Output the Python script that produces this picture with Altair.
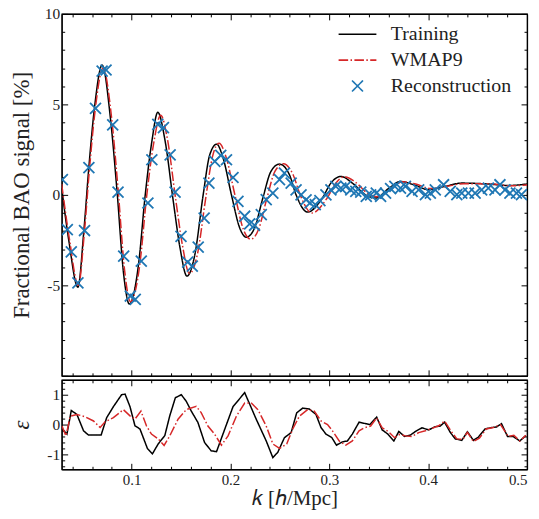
import altair as alt
import pandas as pd

# ---------------- data ----------------
k_train = [0.0293, 0.0366, 0.0457, 0.0517, 0.0567, 0.0628, 0.0702, 0.0786, 0.0853, 0.092,
           0.0977, 0.107, 0.1138, 0.1205, 0.1265, 0.134, 0.1422, 0.149, 0.156, 0.164,
           0.1724, 0.179, 0.186, 0.1926, 0.201, 0.2094, 0.216, 0.2244, 0.2328, 0.241,
           0.2496, 0.2597, 0.2664, 0.278, 0.293, 0.3016, 0.3117, 0.3233, 0.3368, 0.347,
           0.3603, 0.372, 0.3854, 0.4005, 0.4173, 0.434, 0.4609, 0.481, 0.5]
bao_train = [0.37, -2.56, -5.1, -2.0, 1.48, 4.97, 7.17, 4.23, 0.19, -4.4,
             -6.03, -3.85, 0.0, 2.95, 4.56, 2.95, -0.36, -2.93, -4.49, -3.3,
             0.0, 2.2, 2.8, 2.03, 0.0, -1.83, -2.34, -1.83, -0.17, 1.3,
             1.7, 1.11, 0.0, -0.95, -0.17, 0.65, 1.02, 0.65, 0.0, -0.17,
             0.37, 0.74, 0.56, 0.29, 0.47, 0.65, 0.6, 0.52, 0.6]

k_wmap = [0.0293, 0.037, 0.0462, 0.0522, 0.0572, 0.0634, 0.0712, 0.0795, 0.0862, 0.093,
          0.0988, 0.1082, 0.1152, 0.1222, 0.1295, 0.1362, 0.1445, 0.1515, 0.1585, 0.1665,
          0.1752, 0.1818, 0.1885, 0.1955, 0.2045, 0.213, 0.2205, 0.2285, 0.2368, 0.245,
          0.2535, 0.2635, 0.2705, 0.2825, 0.2975, 0.306, 0.315, 0.3265, 0.3395, 0.3495,
          0.3625, 0.374, 0.3875, 0.4025, 0.4195, 0.436, 0.4625, 0.482, 0.5]
bao_wmap = [0.6, -2.4, -5.0, -2.1, 1.3, 4.8, 7.0, 4.4, 0.4, -4.2,
            -5.9, -3.9, -0.1, 2.8, 4.4, 3.1, -0.2, -2.8, -4.35, -3.3,
            -0.1, 2.1, 2.85, 2.1, 0.0, -1.9, -2.45, -1.9, -0.2, 1.3,
            1.72, 1.1, 0.0, -1.0, -0.2, 0.6, 1.0, 0.7, 0.05, -0.1,
            0.35, 0.72, 0.6, 0.35, 0.48, 0.62, 0.62, 0.5, 0.55]

k_rec = [0.030, 0.035, 0.039, 0.0457, 0.0524, 0.0568, 0.0635, 0.0702, 0.0742, 0.0809,
         0.0863, 0.092, 0.0987, 0.1037, 0.1098, 0.1165, 0.1205, 0.1265, 0.1322, 0.139,
         0.144, 0.150, 0.1567, 0.1614, 0.1674, 0.1734, 0.1782, 0.1842, 0.1902, 0.196,
         0.2026, 0.2076, 0.2144, 0.2194, 0.2244, 0.2312, 0.2362, 0.2429, 0.2496, 0.2546,
         0.2614, 0.2664, 0.2714, 0.2765, 0.2805, 0.2858, 0.2905, 0.2966, 0.3016, 0.3066,
         0.3117, 0.3167, 0.3217, 0.3268, 0.3318, 0.3374, 0.3418, 0.3475, 0.3519, 0.3569,
         0.362, 0.3663, 0.372, 0.377, 0.3837, 0.3904, 0.3972, 0.4022, 0.4072, 0.4156,
         0.4223, 0.429, 0.434, 0.4407, 0.4475, 0.4541, 0.4609, 0.4676, 0.4726, 0.4777,
         0.4827, 0.4893, 0.4944]
bao_rec = [0.84, -1.92, -3.15, -4.86, -1.97, 1.51, 4.78, 6.84, 6.9, 3.87,
           0.15, -3.39, -5.59, -5.78, -3.66, -0.45, 1.94, 3.9, 3.72, 2.21,
           0.15, -2.29, -3.72, -3.94, -2.89, -1.28, 0.65, 1.85, 2.18, 1.94,
           0.96, -0.36, -1.18, -1.6, -1.68, -1.09, -0.26, 0.1, 0.84, 1.2,
           0.65, 0.28, 0.0, -0.27, -0.45, -0.54, -0.32, 0.0, 0.28, 0.47,
           0.37, 0.47, 0.28, 0.19, 0.15, -0.08, 0.0, 0.1, -0.08, 0.1,
           0.34, 0.47, 0.37, 0.47, 0.19, 0.28, 0.01, 0.1, 0.28, 0.56,
           0.19, 0.01, 0.1, 0.1, 0.1, 0.28, 0.37, 0.28, 0.56, 0.28,
           0.1, 0.1, 0.01]

k_eps_train = [0.0296, 0.0346, 0.039, 0.0447, 0.0514, 0.0564, 0.0692, 0.0748, 0.0816, 0.0899,
               0.0934, 0.0984, 0.1034, 0.1085, 0.1161, 0.1211, 0.1269, 0.1336, 0.1386, 0.1443,
               0.1503, 0.1553, 0.1604, 0.1671, 0.1738, 0.1805, 0.1859, 0.1943, 0.2026, 0.2144,
               0.2262, 0.2362, 0.2429, 0.2479, 0.2546, 0.2614, 0.267, 0.273, 0.2798, 0.2865,
               0.2916, 0.2966, 0.3026, 0.3072, 0.3133, 0.3183, 0.3233, 0.3301, 0.3368, 0.3411,
               0.3479, 0.3535, 0.3593, 0.3653, 0.3703, 0.3761, 0.3821, 0.3881, 0.3938, 0.4005,
               0.4072, 0.4123, 0.4166, 0.4223, 0.4274, 0.434, 0.4397, 0.4458, 0.4508, 0.4575,
               0.4642, 0.4692, 0.4742, 0.4803, 0.486, 0.4927, 0.4988]
eps_train = [-0.15, -0.32, 0.47, 0.34, -0.21, -0.35, -0.35, 0.23, 0.6, 1.0,
             1.02, 0.6, -0.04, -0.15, -0.81, -0.98, -0.65, -0.37, 0.29, 0.9,
             1.0, 0.78, 0.45, 0.07, -0.6, -0.88, -0.91, -0.15, 0.6, 1.07,
             0.17, -0.55, -1.11, -0.93, -0.44, -0.27, 0.39, 0.55, 0.52, 0.34,
             -0.1, -0.32, -0.44, -0.69, -0.58, -0.55, -0.32, 0.08, 0.03, 0.0,
             0.25, -0.18, -0.32, -0.55, -0.23, -0.4, -0.35, -0.21, -0.11, -0.18,
             -0.07, -0.05, 0.08, -0.26, -0.48, -0.53, -0.24, -0.53, -0.42, -0.15,
             -0.1, -0.08, 0.03, -0.4, -0.4, -0.55, -0.37]

k_eps_wmap = [0.0296, 0.0336, 0.038, 0.0447, 0.0531, 0.0615, 0.0682, 0.0732, 0.0816, 0.0917,
              0.0984, 0.1034, 0.1095, 0.1151, 0.1201, 0.1269, 0.1329, 0.1386, 0.147, 0.1553,
              0.1654, 0.1704, 0.1772, 0.1839, 0.1909, 0.1976, 0.206, 0.2144, 0.2211, 0.2278,
              0.2362, 0.2429, 0.2496, 0.2569, 0.263, 0.2697, 0.2781, 0.2848, 0.2916, 0.2982,
              0.3032, 0.31, 0.3167, 0.3233, 0.3301, 0.3351, 0.3418, 0.3479, 0.3535, 0.3603,
              0.366, 0.3713, 0.377, 0.3837, 0.3904, 0.3972, 0.4038, 0.4106, 0.4166, 0.4229,
              0.429, 0.435, 0.4397, 0.4458, 0.4518, 0.4586, 0.4659, 0.4732, 0.481, 0.4867,
              0.4927, 0.4988]
eps_wmap = [-0.05, -0.38, 0.28, 0.34, 0.26, 0.12, -0.1, 0.09, 0.23, 0.5,
            0.29, 0.18, 0.45, -0.05, -0.32, -0.48, -0.7, -0.38, 0.18, 0.5,
            0.61, 0.4, -0.05, -0.32, -0.69, -0.38, 0.28, 0.72, 0.72, 0.5,
            -0.05, -0.65, -0.8, -0.65, -0.15, 0.28, 0.5, 0.45, 0.12, 0.0,
            -0.21, -0.55, -0.69, -0.55, -0.21, -0.11, -0.05, 0.22, -0.11, -0.25,
            -0.44, -0.33, -0.38, -0.4, -0.27, -0.21, -0.13, -0.04, 0.12, -0.21,
            -0.48, -0.5, -0.26, -0.57, -0.46, -0.15, -0.1, 0.0, -0.4, -0.36,
            -0.55, -0.36]

series_names = ["Training", "WMAP9", "Reconstruction"]
series_colors = ["#000000", "#d62728", "#1f77b4"]
series_dashes = [[1, 0], [9.6, 2.4, 1.5, 2.4], [1, 0]]
LINE_PATH = "M-2,0H2"
X_PATH = "M-0.58,-0.58L0.58,0.58M-0.58,0.58L0.58,-0.58"
series_shapes = [LINE_PATH, LINE_PATH, X_PATH]

x_tick_values = [round(0.04 + 0.02 * i, 2) for i in range(24)]
y_top_values = list(range(-10, 11))
y_bot_values = [round(-1.4 + 0.2 * i, 1) for i in range(15)]

# ---------------- tables ----------------
df_lines = pd.concat([
    pd.DataFrame({"k": k_train, "v": bao_train, "series": "Training"}),
    pd.DataFrame({"k": k_wmap, "v": bao_wmap, "series": "WMAP9"}),
])
df_rec = pd.DataFrame({"k": k_rec, "v": bao_rec, "series": "Reconstruction"})
df_eps = pd.concat([
    pd.DataFrame({"k": k_eps_train, "v": eps_train, "series": "Training"}),
    pd.DataFrame({"k": k_eps_wmap, "v": eps_wmap, "series": "WMAP9"}),
])

FONT = "Liberation Serif"
MAJ, MIN = -6, -3

x_major = "abs(datum.value*10 - round(datum.value*10)) < 1e-6"
yt_major = "datum.value % 5 == 0"
yb_major = "abs(datum.value - round(datum.value)) < 1e-6"


def mk_axis(orient, values, major_test, label_expr=None, title=None, extent=None,
            title_pad=4, label_pad=8, title_size=23, title_style="normal", label_size=15.5,
            flush=False):
    kw = dict(orient=orient, values=values, grid=False, labelFlush=flush,
              tickSize={"condition": {"test": major_test, "value": MAJ}, "value": MIN},
              tickColor="black", tickWidth=1, domainColor="black", domainWidth=1.2,
              labelFont=FONT, labelFontSize=label_size, labelColor="#222",
              titleFont=FONT, titleFontSize=title_size, titleFontWeight="normal",
              titleFontStyle=title_style, titleColor="#222")
    if label_expr is None:
        kw["labels"] = False
        kw["minExtent"] = 0
        kw["maxExtent"] = 0
    else:
        kw["labelExpr"] = label_expr
        kw["labelPadding"] = label_pad
    if title is not None:
        kw["title"] = title
        kw["titlePadding"] = title_pad
    else:
        kw["title"] = None
    if extent is not None:
        kw["minExtent"] = extent
        kw["maxExtent"] = extent
    return alt.Axis(**kw)


xscale = alt.Scale(domain=[0.0293, 0.5], nice=False, zero=False)
yscale_top = alt.Scale(domain=[-10, 10], nice=False, zero=False)
yscale_bot = alt.Scale(domain=[-1.5, 1.5], nice=False, zero=False)

leg = alt.Legend(title=None, orient="none", legendX=287, legendY=10,
                 symbolSize=361, symbolStrokeWidth=1.6, labelFont=FONT, labelFontSize=20,
                 labelColor="#222", labelOffset=23, rowPadding=5, padding=0)

color_enc = alt.Color("series:N", scale=alt.Scale(domain=series_names, range=series_colors), legend=leg)
dash_enc = alt.StrokeDash("series:N", scale=alt.Scale(domain=series_names, range=series_dashes), legend=leg)
shape_enc = alt.Shape("series:N", scale=alt.Scale(domain=series_names, range=series_shapes), legend=leg)

top_lines = alt.Chart(df_lines).mark_line(strokeWidth=1.5, interpolate="monotone", clip=True).encode(
    x=alt.X("k:Q", scale=xscale, axis=mk_axis("bottom", x_tick_values, x_major)),
    y=alt.Y("v:Q", scale=yscale_top,
            axis=mk_axis("left", y_top_values, yt_major,
                         label_expr="datum.value % 5 == 0 && datum.value > -10 ? '' + datum.value : ''",
                         title="Fractional BAO signal [%]", extent=24)),
    color=color_enc, strokeDash=dash_enc,
)
top_points = alt.Chart(df_rec).mark_point(filled=False, strokeWidth=1.8, size=361, opacity=1, clip=True).encode(
    x=alt.X("k:Q", scale=xscale, axis=mk_axis("top", x_tick_values, x_major)),
    y=alt.Y("v:Q", scale=yscale_top, axis=mk_axis("right", y_top_values, yt_major)),
    color=color_enc, shape=shape_enc,
)
top = alt.layer(top_lines, top_points).resolve_axis(x="independent", y="independent").properties(
    width=468, height=364)

bot_lines = alt.Chart(df_eps).mark_line(strokeWidth=1.5, clip=True).encode(
    x=alt.X("k:Q", scale=xscale,
            axis=mk_axis("bottom", x_tick_values, x_major,
                         label_expr=x_major + " ? format(datum.value, '.1f') : ''",
                         title="𝑘 [ℎ/Mpc]", title_pad=0, title_size=21, label_pad=9, label_size=15,
                         flush=True)),
    y=alt.Y("v:Q", scale=yscale_bot,
            axis=mk_axis("left", y_bot_values, yb_major,
                         label_expr=yb_major + " ? '' + round(datum.value) : ''",
                         title="ε", extent=24, title_style="italic")),
    color=alt.Color("series:N", scale=alt.Scale(domain=series_names[:2], range=series_colors[:2]), legend=None),
    strokeDash=alt.StrokeDash("series:N", scale=alt.Scale(domain=series_names[:2], range=series_dashes[:2]), legend=None),
)
bot_frame = alt.Chart(df_eps).mark_line(opacity=0).encode(
    x=alt.X("k:Q", scale=xscale, axis=mk_axis("top", x_tick_values, x_major)),
    y=alt.Y("v:Q", scale=yscale_bot, axis=mk_axis("right", y_bot_values, yb_major)),
    detail="series:N",
)
bottom = alt.layer(bot_lines, bot_frame).resolve_axis(x="independent", y="independent").properties(
    width=468, height=90)

chart = alt.vconcat(top, bottom, spacing=0, padding={"left": 2, "top": -3.5, "right": 2, "bottom": 0}).resolve_scale(
    x="independent", y="independent", color="independent", strokeDash="independent", shape="independent"
).configure_view(stroke="black", strokeWidth=1.2)

chart.save("out.html", embed_options={"renderer": "svg", "actions": False})
